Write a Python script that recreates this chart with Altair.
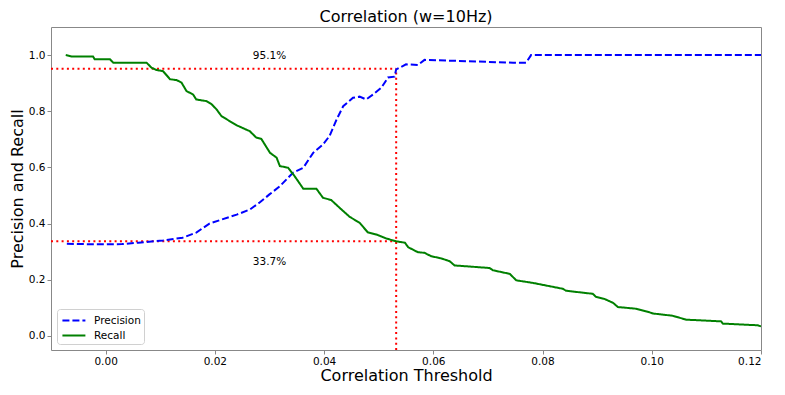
import altair as alt
import pandas as pd

prec_x = [-0.0071, -0.004, 0.0, 0.003, 0.006, 0.0105, 0.0141, 0.0166, 0.019, 0.024,
          0.0264, 0.0282, 0.030, 0.0319, 0.0343, 0.0362, 0.038, 0.0398, 0.041, 0.0423,
          0.0435, 0.0453, 0.0465, 0.0477, 0.049, 0.0505, 0.0517, 0.0529, 0.0532, 0.0544,
          0.055, 0.0572, 0.0584, 0.0746, 0.077, 0.0779, 0.12]
prec_y = [0.328, 0.327, 0.326, 0.327, 0.332, 0.34, 0.35, 0.368, 0.40, 0.432,
          0.45, 0.475, 0.504, 0.533, 0.581, 0.599, 0.652, 0.682, 0.712, 0.771,
          0.818, 0.848, 0.852, 0.842, 0.86, 0.884, 0.92, 0.923, 0.949, 0.961,
          0.967, 0.965, 0.983, 0.973, 0.973, 1.0, 1.0]

rec_x = [-0.0073, -0.0062, -0.0023, -0.002, 0.0008, 0.0014, 0.0075, 0.0084, 0.0093, 0.0105,
         0.0118, 0.013, 0.0139, 0.0148, 0.016, 0.0166, 0.0185, 0.0194, 0.0203, 0.0212,
         0.0227, 0.024, 0.0264, 0.0276, 0.0285, 0.0301, 0.0313, 0.0319, 0.0334, 0.0346,
         0.0362, 0.0386, 0.0398, 0.0413, 0.0432, 0.0447, 0.0465, 0.048, 0.0496, 0.0514,
         0.0532, 0.0548, 0.0554, 0.0572, 0.0584, 0.0596, 0.0615, 0.063, 0.0639, 0.0703,
         0.0709, 0.074, 0.0752, 0.0782, 0.0837, 0.0843, 0.0892, 0.0898, 0.0913, 0.0929,
         0.0938, 0.0971, 0.0996, 0.1002, 0.1038, 0.1063, 0.1127, 0.113, 0.1194, 0.12]
rec_y = [1.0, 0.995, 0.995, 0.985, 0.985, 0.973, 0.973, 0.955, 0.947, 0.943,
         0.914, 0.911, 0.902, 0.872, 0.860, 0.842, 0.836, 0.825, 0.807, 0.783,
         0.765, 0.750, 0.729, 0.706, 0.702, 0.652, 0.635, 0.605, 0.599, 0.569,
         0.524, 0.524, 0.492, 0.484, 0.45, 0.424, 0.403, 0.369, 0.361, 0.347,
         0.337, 0.332, 0.316, 0.298, 0.296, 0.284, 0.276, 0.266, 0.251, 0.242,
         0.234, 0.221, 0.198, 0.189, 0.168, 0.161, 0.150, 0.139, 0.132, 0.118,
         0.103, 0.097, 0.084, 0.080, 0.072, 0.058, 0.052, 0.044, 0.038, 0.034]

series_names = ["Precision", "Recall"]
series_colors = ["#0000ff", "#008000"]

threshold = 0.0532
prec_at = 0.951
rec_at = 0.337
ann_labels = ["95.1%", "33.7%"]
ann_x = [0.030, 0.030]
ann_y = [0.995, 0.265]

x_min, x_max = -0.01, 0.12
y_min, y_max = -0.05, 1.1
x_ticks = [0.0, 0.02, 0.04, 0.06, 0.08, 0.10, 0.12]
y_ticks = [0.0, 0.2, 0.4, 0.6, 0.8, 1.0]

FONT = "DejaVu Sans"

rows = []
for i, (x, y) in enumerate(zip(prec_x, prec_y)):
    rows.append({"x": x, "y": y, "series": "Precision", "i": i})
for i, (x, y) in enumerate(zip(rec_x, rec_y)):
    rows.append({"x": x, "y": y, "series": "Recall", "i": i})
lines_df = pd.DataFrame(rows)

seg_df = pd.DataFrame({
    "x": [x_min, x_min, threshold],
    "x2": [threshold, threshold, threshold],
    "y": [prec_at, rec_at, y_min],
    "y2": [prec_at, rec_at, prec_at],
})
ann_df = pd.DataFrame({"x": ann_x, "y": ann_y, "label": ann_labels})

xscale = alt.Scale(domain=[x_min, x_max], nice=False, zero=False)
yscale = alt.Scale(domain=[y_min, y_max], nice=False, zero=False)

lines = alt.Chart(lines_df).mark_line(strokeWidth=2, clip=True).encode(
    x=alt.X("x:Q", scale=xscale,
            axis=alt.Axis(title="Correlation Threshold", values=x_ticks, format=".2f",
                          grid=False, domain=False, tickSize=4, tickColor="#888",
                          labelFont=FONT, labelFontSize=10.5, labelColor="black",
                          labelPadding=2, titleFont=FONT, titleFontSize=16,
                          titleFontWeight="normal", titleColor="black", titlePadding=1)),
    y=alt.Y("y:Q", scale=yscale,
            axis=alt.Axis(title="Precision and Recall", values=y_ticks, format=".1f",
                          grid=False, domain=False, tickSize=4, tickColor="#888",
                          labelFont=FONT, labelFontSize=10.5, labelColor="black",
                          labelPadding=2, titleFont=FONT, titleFontSize=16,
                          titleFontWeight="normal", titleColor="black", titlePadding=3)),
    color=alt.Color("series:N", scale=alt.Scale(domain=series_names, range=series_colors),
                    legend=alt.Legend(title=None, orient="bottom-left", offset=6,
                                      symbolType="M-0.86,0H2.39", symbolSize=200,
                                      symbolStrokeWidth=2, labelFont=FONT,
                                      labelFontSize=10.5, labelOffset=17,
                                      fillColor="white", strokeColor="#d0d0d0",
                                      cornerRadius=3, padding=3, rowPadding=1)),
    strokeDash=alt.StrokeDash("series:N",
                              scale=alt.Scale(domain=series_names, range=[[7, 3], [1, 0]]),
                              legend=None),
    order="i:Q",
)

rules = alt.Chart(seg_df).mark_rule(color="#ff0000", strokeWidth=2, strokeDash=[2, 3.3]).encode(
    x="x:Q", x2="x2", y="y:Q", y2="y2",
)

texts = alt.Chart(ann_df).mark_text(font=FONT, fontSize=10.5, color="black").encode(
    x="x:Q", y="y:Q", text="label:N",
)

chart = alt.layer(rules, lines, texts).properties(
    width=710, height=323,
    title=alt.TitleParams("Correlation (w=10Hz)", font=FONT, fontSize=16,
                          fontWeight="normal", anchor="middle", offset=2, color="black"),
    autosize=alt.AutoSizeParams(type="none"),
    padding={"left": 43, "top": 19, "right": 16, "bottom": 37},
).configure_view(stroke="#888", strokeWidth=1)

chart.save("out.html", embed_options={"renderer": "svg", "actions": False})
